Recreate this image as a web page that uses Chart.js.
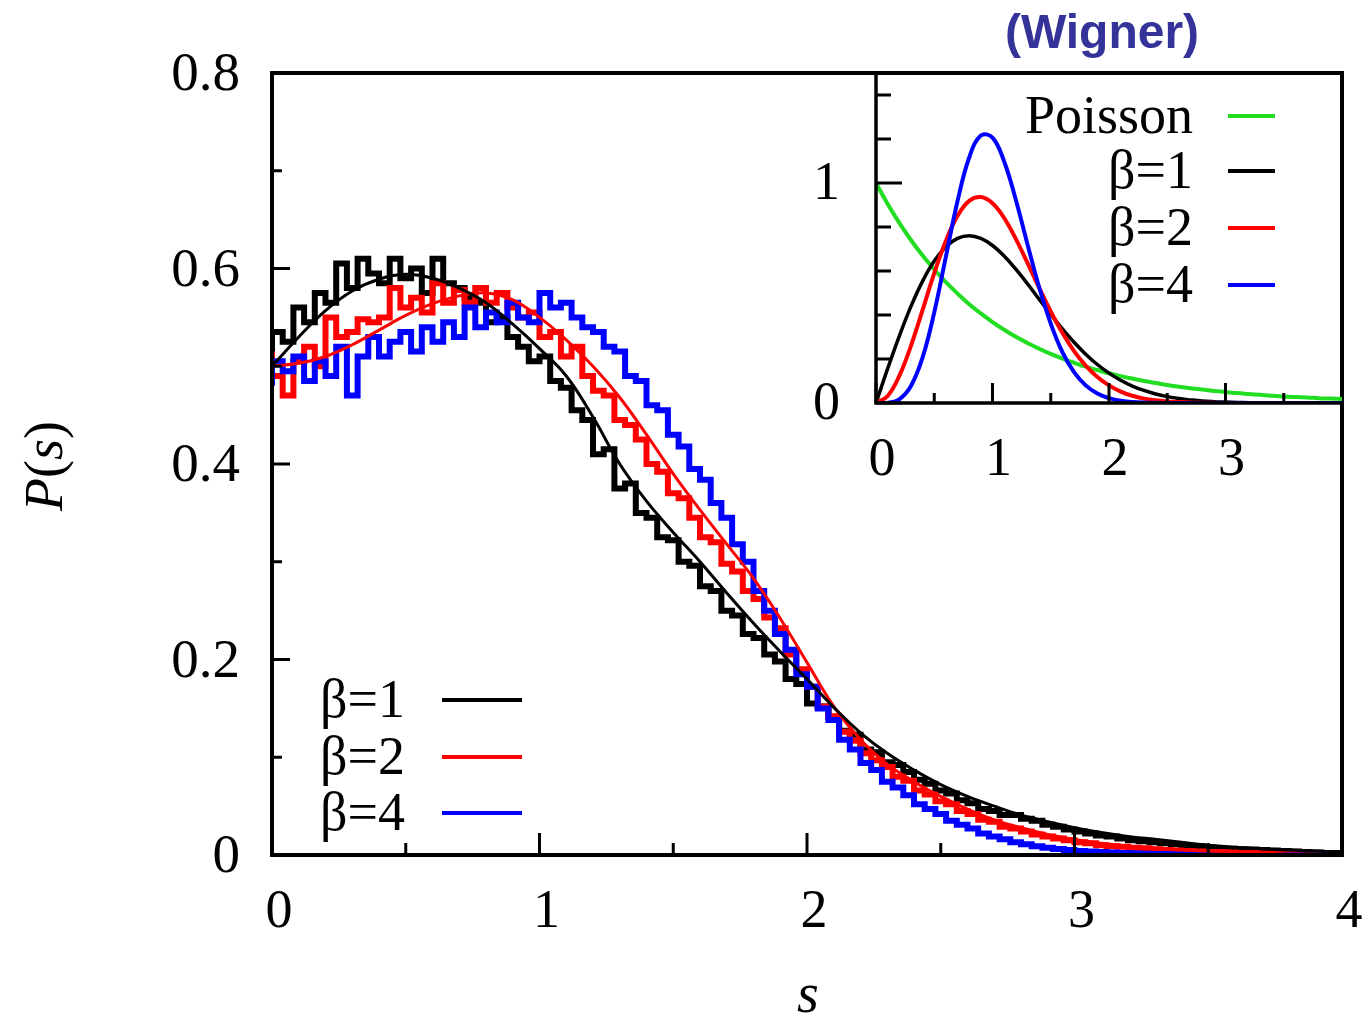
<!DOCTYPE html>
<html><head><meta charset="utf-8">
<script src="https://cdn.jsdelivr.net/npm/chart.js@4/dist/chart.umd.min.js"></script>
<style>
html,body{margin:0;padding:0;background:#fff;}
#wrap{position:relative;width:1369px;height:1018px;overflow:hidden;}
#main{position:absolute;left:0;top:0;}
#inset{position:absolute;left:780px;top:60px;}
</style></head><body>
<div id="wrap"><canvas id="main" width="1369" height="1018"></canvas><canvas id="inset" width="589" height="440"></canvas></div>
<script>
// ---------- data ----------
const binWidth = 0.04; // histogram bin width in s
const histBeta1 = [
 0.51,0.535,0.525,0.56,0.545,0.575,0.565,0.605,0.58,0.61,
 0.595,0.585,0.61,0.59,0.60,0.575,0.61,0.585,0.58,0.57,
 0.565,0.545,0.55,0.53,0.52,0.505,0.51,0.485,0.478,0.455,
 0.445,0.41,0.415,0.375,0.38,0.35,0.345,0.325,0.322,0.30,
 0.296,0.275,0.27,0.25,0.245,0.226,0.222,0.205,0.198,0.18,
 0.175,0.155,0.152,0.141,0.127,0.123,0.108,0.105,0.095,0.092,
 0.085,0.077,0.073,0.066,0.063,0.056,0.053,0.047,0.045,0.041,
 0.041,0.037,0.035,0.031,0.029,0.026,0.024,0.022,0.020,0.019,
 0.017,0.015,0.014,0.013,0.012,0.011,0.0095,0.009,0.008,0.007,
 0.0065,0.006,0.0055,0.005,0.0045,0.004,0.0035,0.003,0.0025,0.002];
const histBeta2 = [
 0.515,0.49,0.47,0.505,0.52,0.50,0.55,0.53,0.535,0.548,
 0.545,0.55,0.58,0.56,0.57,0.555,0.585,0.565,0.578,0.565,
 0.58,0.565,0.575,0.56,0.55,0.555,0.53,0.535,0.51,0.52,
 0.49,0.475,0.47,0.445,0.44,0.425,0.40,0.392,0.37,0.365,
 0.345,0.325,0.32,0.298,0.29,0.27,0.262,0.243,0.232,0.205,
 0.19,0.172,0.152,0.142,0.126,0.117,0.104,0.097,0.09,0.08,
 0.076,0.066,0.062,0.055,0.052,0.045,0.042,0.036,0.034,0.029,
 0.027,0.024,0.021,0.019,0.017,0.015,0.013,0.012,0.010,0.009,
 0.0085,0.0075,0.007,0.006,0.005,0.0045,0.004,0.0035,0.003,0.003,
 0.0025,0.002,0.002,0.0015,0.001,0.001,0.001,0.0008,0.0005,0.0005];
const histBeta4 = [
 0.48,0.505,0.495,0.51,0.485,0.505,0.49,0.52,0.47,0.51,
 0.53,0.51,0.525,0.535,0.515,0.54,0.525,0.545,0.53,0.56,
 0.54,0.555,0.545,0.565,0.55,0.545,0.575,0.56,0.565,0.55,
 0.54,0.535,0.52,0.515,0.49,0.485,0.46,0.455,0.43,0.418,
 0.395,0.384,0.36,0.345,0.318,0.30,0.27,0.25,0.226,0.21,
 0.185,0.172,0.15,0.138,0.118,0.108,0.094,0.087,0.075,0.069,
 0.061,0.052,0.047,0.042,0.035,0.031,0.027,0.022,0.019,0.016,
 0.013,0.011,0.009,0.0075,0.0062,0.005,0.0042,0.0035,0.003,0.0025,
 0.002,0.0017,0.0014,0.0011,0.001,0.0008,0.0006,0.0005,0.0004,0.0003,
 0.0002,0.0002,0.0001,0.0001,0,0,0,0,0,0];

const sFit = [0,0.1,0.2,0.3,0.4,0.5,0.6,0.7,0.8,0.9,1.0,1.1,1.2,1.3,1.4,1.5,1.6,1.7,1.8,1.9,2.0,
              2.1,2.2,2.3,2.4,2.5,2.6,2.7,2.8,2.9,3.0,3.1,3.2,3.3,3.4,3.5,3.6,3.7,3.8,3.9,4.0];
const fitBeta1 = [0.50,0.53,0.557,0.577,0.589,0.594,0.590,0.580,0.565,0.543,0.518,0.49,0.448,0.40,0.362,0.33,0.30,0.268,0.237,0.208,0.18,
                  0.151,0.125,0.104,0.087,0.072,0.06,0.05,0.041,0.034,0.028,0.023,0.019,0.016,0.013,0.010,0.008,0.0065,0.005,0.004,0.003];
const fitBeta2 = [0.50,0.503,0.51,0.522,0.537,0.552,0.564,0.572,0.575,0.568,0.55,0.527,0.50,0.468,0.43,0.39,0.353,0.318,0.283,0.242,0.197,
                  0.152,0.118,0.093,0.075,0.06,0.047,0.036,0.028,0.021,0.016,0.012,0.009,0.007,0.005,0.004,0.003,0.002,0.001,0.001,0.0];

const insetS = [0,0.1,0.2,0.3,0.4,0.5,0.6,0.7,0.8,0.9,1.0,1.1,1.2,1.3,1.4,1.5,1.6,1.7,1.8,1.9,2.0,
                2.1,2.2,2.3,2.4,2.5,2.6,2.7,2.8,2.9,3.0,3.1,3.2,3.3,3.4,3.5,3.6,3.7,3.8,3.9,4.0];
const poisson = [1,0.905,0.819,0.741,0.670,0.607,0.549,0.497,0.449,0.407,0.368,0.333,0.301,0.273,0.247,0.223,0.202,0.183,0.165,0.150,0.135,
                 0.122,0.111,0.100,0.091,0.082,0.074,0.067,0.061,0.055,0.050,0.045,0.041,0.037,0.033,0.030,0.027,0.025,0.022,0.020,0.018];
const wignerBeta1 = [0,0.156,0.304,0.439,0.554,0.645,0.710,0.748,0.760,0.748,0.716,0.668,0.608,0.542,0.472,0.403,0.337,0.276,0.222,0.175,0.136,
                     0.103,0.077,0.057,0.041,0.029,0.020,0.014,0.009,0.006,0.004,0.0025,0.0016,0.001,0.0006,0.0004,0.0002,0.0001,0.0001,0,0];
const wignerBeta2 = [0,0.032,0.123,0.260,0.423,0.590,0.738,0.851,0.919,0.936,0.908,0.841,0.746,0.637,0.524,0.416,0.319,0.236,0.170,0.118,0.080,
                     0.052,0.033,0.020,0.012,0.007,0.004,0.002,0.001,0.0006,0.0003,0.0001,0,0,0,0,0,0,0,0,0];
const wignerBeta4 = [0,0.001,0.017,0.077,0.207,0.412,0.665,0.918,1.116,1.216,1.206,1.098,0.924,0.722,0.527,0.361,0.231,0.140,0.080,0.043,0.022,
                     0.010,0.005,0.002,0.0008,0.0003,0.0001,0,0,0,0,0,0,0,0,0,0,0,0,0,0];

const mainXTicks = [0,1,2,3,4];
const mainXMinor = [0.5,1.5,2.5,3.5];
const mainYTicks = [0,0.2,0.4,0.6,0.8];
const mainYMinor = [0.1,0.3,0.5,0.7];
const insetXTicks = [0,1,2,3];
const insetXMinor = [0.5,1.5,2.5,3.5];
const insetYTicks = [0,1];
const insetYMinor = [0.2,0.4,0.6,0.8,1.2,1.4];

const mainLegendLabels = ['β=1','β=2','β=4'];
const insetLegendLabels = ['Poisson','β=1','β=2','β=4'];
const xTitle = 's';
const insetTag = '(Wigner)';

// ---------- helpers ----------
const SERIF = '"Liberation Serif","Times New Roman",serif';
const BLACK = '#000000', RED = '#ff0000', BLUE = '#0000ff', GREEN = '#22dd22';

function histPoints(vals){
  const pts = vals.map((v,i)=>({x:i*binWidth, y:v}));
  pts.push({x:vals.length*binWidth, y:vals[vals.length-1]});
  return pts;
}
function curvePoints(xs, ys){ return xs.map((x,i)=>({x:x, y:ys[i]})); }
function fixBox(w, h){
  return s => {
    if (w !== null) s.width = w;
    if (h !== null) s.height = h;
    s.paddingLeft = 0; s.paddingRight = 0; s.paddingTop = 0; s.paddingBottom = 0;
  };
}

const axisDeco = {
  id:'axisDeco',
  afterDatasetsDraw(chart, args, o){
    const {ctx, chartArea:a, scales:{x,y}} = chart;
    ctx.save();
    ctx.strokeStyle = '#000'; ctx.lineCap = 'butt';
    ctx.lineWidth = o.tickWidth;
    const xt = o.xMajor.map(v=>[v,o.xMajorLen]).concat(o.xMinor.map(v=>[v,o.xMinorLen]));
    xt.forEach(([v,len])=>{const px=x.getPixelForValue(v); ctx.beginPath(); ctx.moveTo(px,a.bottom); ctx.lineTo(px,a.bottom-len); ctx.stroke();});
    const yt = o.yMajor.map(v=>[v,o.yMajorLen]).concat(o.yMinor.map(v=>[v,o.yMinorLen]));
    yt.forEach(([v,len])=>{const py=y.getPixelForValue(v); ctx.beginPath(); ctx.moveTo(a.left,py); ctx.lineTo(a.left+len,py); ctx.stroke();});
    ctx.lineWidth = o.frameWidth;
    ctx.lineJoin = 'miter';
    ctx.beginPath();
    if (o.box) { ctx.rect(a.left, a.top, a.right-a.left, a.bottom-a.top); }
    else { ctx.moveTo(a.left, a.top); ctx.lineTo(a.left, a.bottom); ctx.lineTo(a.right, a.bottom); }
    ctx.stroke();
    ctx.restore();
  }
};

const keyBox = {
  id:'keyBox',
  afterDraw(chart, args, o){
    const ctx = chart.ctx;
    ctx.save();
    o.labels.forEach((lab,i)=>{
      const y = o.ys[i];
      ctx.font = o.fontSize + 'px ' + SERIF;
      ctx.fillStyle = '#000';
      ctx.textAlign = 'right'; ctx.textBaseline = 'middle';
      ctx.fillText(lab, o.textRight, y + o.textDy);
      ctx.strokeStyle = o.colors[i]; ctx.lineWidth = o.lineWidth; ctx.lineCap='butt';
      ctx.beginPath(); ctx.moveTo(o.x1, y); ctx.lineTo(o.x2, y); ctx.stroke();
    });
    ctx.restore();
  }
};

const titles = {
  id:'titles',
  afterDraw(chart){
    const ctx = chart.ctx;
    ctx.save();
    ctx.fillStyle = '#000';
    const parts = [['P','italic '],['(',''],['s','italic '],[')','']];
    ctx.translate(62, 466); ctx.rotate(-Math.PI/2);
    ctx.textBaseline = 'alphabetic'; ctx.textAlign = 'left';
    let w = 0;
    parts.forEach(p=>{ctx.font = p[1]+'54px '+SERIF; w += ctx.measureText(p[0]).width;});
    let cx = -w/2;
    parts.forEach(p=>{ctx.font = p[1]+'54px '+SERIF; ctx.fillText(p[0], cx, 0); cx += ctx.measureText(p[0]).width;});
    ctx.setTransform(1,0,0,1,0,0);
    ctx.font = 'italic 56px ' + SERIF; ctx.textAlign='center';
    ctx.fillText(xTitle, 808, 1012);
    ctx.font = 'bold 48px "Liberation Sans",Arial,sans-serif';
    ctx.fillStyle = '#333399';
    ctx.fillText(insetTag, 1102, 48);
    ctx.restore();
  }
};

// ---------- main chart ----------
new Chart(document.getElementById('main'), {
  type:'line',
  data:{datasets:[
    {label:'β=1 fit', data:curvePoints(sFit, fitBeta1), borderColor:BLACK, borderWidth:3, pointRadius:0, tension:0.4, order:0},
    {label:'β=2 fit', data:curvePoints(sFit, fitBeta2), borderColor:RED, borderWidth:3, pointRadius:0, tension:0.4, order:1},
    {label:mainLegendLabels[2], data:histPoints(histBeta4), borderColor:BLUE, borderWidth:6, pointRadius:0, stepped:'after', order:2},
    {label:mainLegendLabels[1], data:histPoints(histBeta2), borderColor:RED, borderWidth:6, pointRadius:0, stepped:'after', order:3},
    {label:mainLegendLabels[0], data:histPoints(histBeta1), borderColor:BLACK, borderWidth:6, pointRadius:0, stepped:'after', order:4}
  ]},
  options:{
    responsive:false, animation:false, events:[],
    layout:{padding:{left:0,right:27,top:73,bottom:0}},
    plugins:{
      legend:{display:false}, tooltip:{enabled:false},
      axisDeco:{box:true, frameWidth:4, tickWidth:3,
        xMajor:mainXTicks, xMinor:mainXMinor, xMajorLen:22, xMinorLen:12,
        yMajor:mainYTicks, yMinor:mainYMinor, yMajorLen:18, yMinorLen:10},
      keyBox:{labels:mainLegendLabels, colors:[BLACK,RED,BLUE], ys:[700,757,813], textRight:405, x1:442, x2:522, lineWidth:4, fontSize:54, textDy:3}
    },
    scales:{
      x:{type:'linear', min:0, max:4, grid:{display:false, drawTicks:false}, border:{display:false},
         ticks:{stepSize:1, autoSkip:false, maxRotation:0, font:{family:SERIF, size:54}, color:'#000', padding:25, labelOffset:7,
                callback:v=> mainXTicks.includes(v) ? String(v) : null},
         afterFit:fixBox(null, 163)},
      y:{type:'linear', min:0, max:0.8, grid:{display:false, drawTicks:false}, border:{display:false},
         ticks:{stepSize:0.2, font:{family:SERIF, size:55}, color:'#000', padding:32, labelOffset:3,
                callback:v=> v===0 ? '0' : v.toFixed(1)},
         afterFit:fixBox(272, null)}
    }
  },
  plugins:[axisDeco, keyBox, titles]
});

// ---------- inset chart ----------
new Chart(document.getElementById('inset'), {
  type:'line',
  data:{datasets:[
    {label:insetLegendLabels[0], data:curvePoints(insetS, poisson), borderColor:GREEN, borderWidth:4, pointRadius:0, tension:0.4, order:3},
    {label:insetLegendLabels[1], data:curvePoints(insetS, wignerBeta1), borderColor:BLACK, borderWidth:3.5, pointRadius:0, tension:0.4, order:2},
    {label:insetLegendLabels[2], data:curvePoints(insetS, wignerBeta2), borderColor:RED, borderWidth:4, pointRadius:0, tension:0.4, order:1},
    {label:insetLegendLabels[3], data:curvePoints(insetS, wignerBeta4), borderColor:BLUE, borderWidth:4, pointRadius:0, tension:0.4, order:0}
  ]},
  options:{
    responsive:false, animation:false, events:[],
    layout:{padding:{left:0,right:27,top:13,bottom:0}},
    plugins:{
      legend:{display:false}, tooltip:{enabled:false},
      axisDeco:{box:false, frameWidth:3.5, tickWidth:3,
        xMajor:insetXTicks, xMinor:insetXMinor, xMajorLen:20, xMinorLen:10,
        yMajor:insetYTicks, yMinor:insetYMinor, yMajorLen:26, yMinorLen:15},
      keyBox:{labels:insetLegendLabels, colors:[GREEN,BLACK,RED,BLUE], ys:[56,111,168,225], textRight:413, x1:448, x2:495, lineWidth:4, fontSize:54, textDy:3}
    },
    scales:{
      x:{type:'linear', min:0, max:4, grid:{display:false, drawTicks:false}, border:{display:false},
         ticks:{stepSize:1, autoSkip:false, maxRotation:0, font:{family:SERIF, size:54}, color:'#000', padding:25, labelOffset:6,
                callback:v=> insetXTicks.includes(v) ? String(v) : null},
         afterFit:fixBox(null, 97)},
      y:{type:'linear', min:0, max:1.5, grid:{display:false, drawTicks:false}, border:{display:false},
         ticks:{stepSize:1, font:{family:SERIF, size:54}, color:'#000', padding:36, labelOffset:2,
                callback:v=> insetYTicks.includes(v) ? String(v) : null},
         afterFit:fixBox(96, null)}
    }
  },
  plugins:[axisDeco, keyBox]
});
</script>
</body></html>
